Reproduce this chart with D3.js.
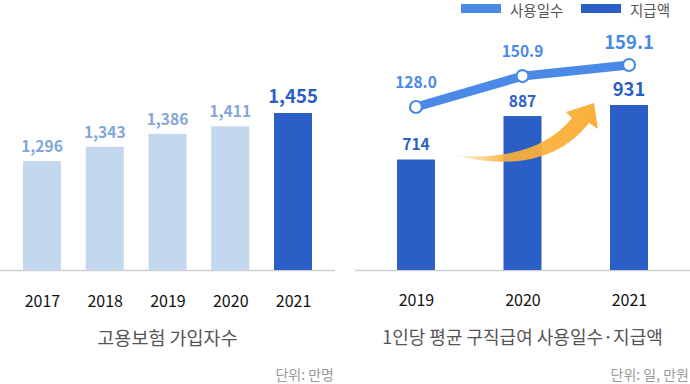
<!DOCTYPE html>
<html>
<head>
<meta charset="utf-8">
<script src="https://cdn.jsdelivr.net/npm/d3@7"></script>
<style>
  html, body { margin: 0; padding: 0; background: #fff; }
  svg { display: block; font-family: "Noto Sans CJK KR", "Noto Sans", sans-serif; }
</style>
</head>
<body>
<svg id="chart" width="690" height="384"></svg>
<script>
// ---- data ----
const leftYears = ["2017", "2018", "2019", "2020", "2021"];
const leftValues = [1296, 1343, 1386, 1411, 1455];
const leftLabels = ["1,296", "1,343", "1,386", "1,411", "1,455"];
const leftTitle = "고용보험 가입자수";
const leftUnit = "단위: 만명";

const rightYears = ["2019", "2020", "2021"];
const daysValues = [128.0, 150.9, 159.1];
const daysLabels = ["128.0", "150.9", "159.1"];
const payValues = [714, 887, 931];
const payLabels = ["714", "887", "931"];
const rightTitle = "1인당 평균 구직급여 사용일수·지급액";
const rightUnit = "단위: 일, 만원";
const legendLabels = ["사용일수", "지급액"];

// ---- colors ----
const lightBar = "#c3d7ee", lightText = "#82a7d6";
const darkBar = "#2b5fc7", lineBlue = "#4a8ae6";

const svg = d3.select("#chart");
const baseY = 270;

// ================= LEFT CHART =================
const xL = d3.scalePoint().domain(leftYears).range([10.6, 324.4]).padding(0.5);
const yL = d3.scaleLinear().domain([935, 1455]).range([baseY, 113]);
const bw = 38;
const gL = svg.append("g");

gL.append("line").attr("x1", 0).attr("x2", 335).attr("y1", baseY + 0.5).attr("y2", baseY + 0.5)
  .attr("stroke", "#cfcfcf").attr("stroke-width", 1.5);

gL.selectAll("rect.bar").data(leftValues).join("rect")
  .attr("x", (d, i) => xL(leftYears[i]) - bw / 2)
  .attr("width", bw)
  .attr("y", d => yL(d))
  .attr("height", d => baseY - yL(d))
  .attr("fill", (d, i) => i === leftValues.length - 1 ? darkBar : lightBar);

gL.selectAll("text.val").data(leftValues).join("text")
  .attr("x", (d, i) => xL(leftYears[i]))
  .attr("y", (d, i) => yL(d) - (i === leftValues.length - 1 ? 10 : 9))
  .attr("text-anchor", "middle")
  .attr("font-size", (d, i) => i === leftValues.length - 1 ? 18.5 : 15.5)
  .attr("font-weight", (d, i) => i === leftValues.length - 1 ? 700 : 600)
  .attr("fill", (d, i) => i === leftValues.length - 1 ? darkBar : lightText)
  .text((d, i) => leftLabels[i]);

const axL = d3.axisBottom(xL).tickSize(0).tickPadding(0);
gL.append("g").attr("transform", `translate(0, ${baseY})`).call(axL)
  .call(g => g.select(".domain").remove())
  .selectAll("text")
  .attr("dy", null).attr("y", 37)
  .attr("font-family", "'Noto Sans CJK KR', sans-serif")
  .attr("font-size", 16).attr("font-weight", 400).attr("fill", "#111");

gL.append("text").attr("x", 167.5).attr("y", 344.5).attr("text-anchor", "middle")
  .attr("font-size", 18.5).attr("fill", "#555").text(leftTitle);
gL.append("text").attr("x", 334).attr("y", 379.5).attr("text-anchor", "end")
  .attr("font-size", 14).attr("fill", "#999").text(leftUnit);

// ================= RIGHT CHART =================
const xR = d3.scalePoint().domain(rightYears).range([362.75, 682.25]).padding(0.5);
const yBar = d3.scaleLinear().domain([274, 931]).range([baseY, 105]);
const yLine = d3.scaleLinear().domain([128, 159.1]).range([107, 65]);
const gR = svg.append("g");

gR.append("line").attr("x1", 355).attr("x2", 690).attr("y1", baseY + 0.5).attr("y2", baseY + 0.5)
  .attr("stroke", "#cfcfcf").attr("stroke-width", 1.5);

gR.selectAll("rect.bar").data(payValues).join("rect")
  .attr("x", (d, i) => xR(rightYears[i]) - bw / 2)
  .attr("width", bw)
  .attr("y", d => yBar(d))
  .attr("height", d => baseY - yBar(d))
  .attr("fill", darkBar);

// arrow (decorative)
const defs = svg.append("defs");
const grad = defs.append("linearGradient").attr("id", "arrowGrad")
  .attr("x1", "0%").attr("x2", "100%").attr("y1", "0%").attr("y2", "0%");
grad.append("stop").attr("offset", "0%").attr("stop-color", "#fbb03b").attr("stop-opacity", 0);
grad.append("stop").attr("offset", "35%").attr("stop-color", "#fbb03b").attr("stop-opacity", 0.9);
grad.append("stop").attr("offset", "100%").attr("stop-color", "#fbb03b").attr("stop-opacity", 1);
gR.append("path")
  .attr("d", "M452,155 Q535,163 572,118 L566,112 L594,103 L598,129 L589,123 Q546,178 452,155 Z")
  .attr("fill", "url(#arrowGrad)");

gR.selectAll("text.pay").data(payValues).join("text")
  .attr("x", (d, i) => xR(rightYears[i]))
  .attr("y", (d, i) => yBar(d) - 9)
  .attr("text-anchor", "middle")
  .attr("font-size", (d, i) => i === payValues.length - 1 ? 18.5 : 15.5)
  .attr("font-weight", 700)
  .attr("fill", darkBar)
  .text((d, i) => payLabels[i]);

const line = d3.line().x((d, i) => xR(rightYears[i])).y(d => yLine(d));
gR.append("path").datum(daysValues).attr("d", line)
  .attr("fill", "none").attr("stroke", lineBlue).attr("stroke-width", 9);
gR.selectAll("circle").data(daysValues).join("circle")
  .attr("cx", (d, i) => xR(rightYears[i])).attr("cy", d => yLine(d)).attr("r", 6)
  .attr("fill", "#fff").attr("stroke", lineBlue).attr("stroke-width", 2.2);

gR.selectAll("text.days").data(daysValues).join("text")
  .attr("x", (d, i) => xR(rightYears[i]))
  .attr("y", (d, i) => yLine(d) - (i === daysValues.length - 1 ? 16 : 19))
  .attr("text-anchor", "middle")
  .attr("font-size", (d, i) => i === daysValues.length - 1 ? 18.5 : 15.5)
  .attr("font-weight", (d, i) => i === daysValues.length - 1 ? 700 : 600)
  .attr("fill", lineBlue)
  .text((d, i) => daysLabels[i]);

const axR = d3.axisBottom(xR).tickSize(0).tickPadding(0);
gR.append("g").attr("transform", `translate(0, ${baseY})`).call(axR)
  .call(g => g.select(".domain").remove())
  .selectAll("text")
  .attr("dy", null).attr("y", 36)
  .attr("font-family", "'Noto Sans CJK KR', sans-serif")
  .attr("font-size", 16).attr("font-weight", 400).attr("fill", "#111");

gR.append("text").attr("x", 522.5).attr("y", 343.5).attr("text-anchor", "middle")
  .attr("font-size", 18).attr("fill", "#555").text(rightTitle);
gR.append("text").attr("x", 689).attr("y", 379.5).attr("text-anchor", "end")
  .attr("font-size", 14).attr("fill", "#999").text(rightUnit);

// legend
const legend = svg.append("g");
const legItems = [{ c: lineBlue, x: 461 }, { c: darkBar, x: 581 }];
legend.selectAll("rect").data(legItems).join("rect")
  .attr("x", d => d.x).attr("y", 4).attr("width", 40).attr("height", 9).attr("fill", d => d.c);
legend.selectAll("text").data(legItems).join("text")
  .attr("x", d => d.x + 49).attr("y", 15.5)
  .attr("font-size", 14.5).attr("fill", "#555")
  .text((d, i) => legendLabels[i]);
</script>
</body>
</html>
